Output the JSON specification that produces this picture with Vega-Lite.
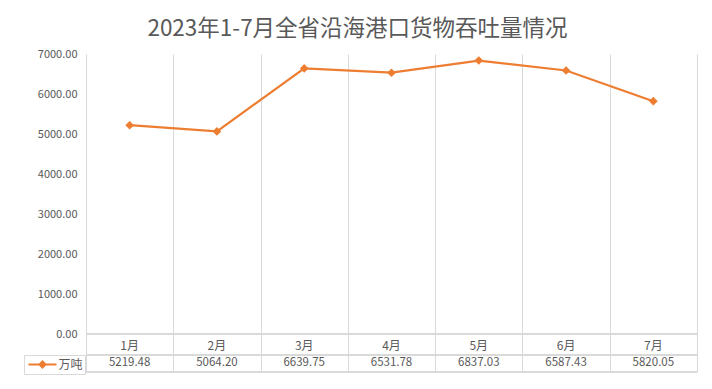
{
  "$schema": "https://vega.github.io/schema/vega-lite/v6.json",
  "width": 611,
  "height": 318,
  "autosize": "none",
  "padding": {"left": 86, "top": 54, "right": 15, "bottom": 17},
  "background": "white",
  "title": {
    "text": "2023年1-7月全省沿海港口货物吞吐量情况",
    "fontSize": 22.5,
    "font": "Noto Sans CJK SC",
    "fontWeight": "normal",
    "color": "#595959",
    "anchor": "middle",
    "dx": -34,
    "offset": 8
  },
  "data": {
    "values": [
      {"month": "1月", "value": 5219.48, "series": "万吨"},
      {"month": "2月", "value": 5064.20, "series": "万吨"},
      {"month": "3月", "value": 6639.75, "series": "万吨"},
      {"month": "4月", "value": 6531.78, "series": "万吨"},
      {"month": "5月", "value": 6837.03, "series": "万吨"},
      {"month": "6月", "value": 6587.43, "series": "万吨"},
      {"month": "7月", "value": 5820.05, "series": "万吨"}
    ]
  },
  "layer": [
    {
      "mark": {"type": "rule", "color": "#d9d9d9", "strokeWidth": 1},
      "encoding": {
        "y": {"datum": 0, "type": "quantitative", "scale": {"domain": [-950, 7000], "nice": false, "zero": false},
          "axis": {"values": [0, 1000, 2000, 3000, 4000, 5000, 6000, 7000], "format": ".2f", "grid": false, "domain": false, "ticks": false, "labelPadding": 9, "labelFontSize": 11, "labelColor": "#595959", "labelFont": "Noto Sans CJK SC", "title": null}}
      }
    },
    {
      "mark": {"type": "rule", "color": "#d9d9d9", "strokeWidth": 1},
      "encoding": {
        "y": {"datum": -525, "type": "quantitative"}
      }
    },
    {
      "mark": {"type": "rule", "color": "#d9d9d9", "strokeWidth": 1},
      "encoding": {
        "y": {"datum": -950, "type": "quantitative"}
      }
    },
    {
      "mark": {"type": "line", "strokeWidth": 2.25},
      "encoding": {
        "x": {"field": "month", "type": "nominal", "sort": null, "scale": {"paddingInner": 0, "paddingOuter": 0},
          "axis": {"orient": "bottom", "grid": true, "gridColor": "#d9d9d9", "gridWidth": 1, "tickBand": "extent", "labels": false, "ticks": false, "domain": false, "title": null}},
        "y": {"field": "value", "type": "quantitative"},
        "color": {"field": "series", "type": "nominal", "scale": {"range": ["#ED7D31"]},
          "legend": {"title": null, "orient": "none", "legendX": -62, "legendY": 301, "strokeColor": "#d9d9d9", "padding": 1.5,
            "symbolType": "M-2,0H2M0,-0.43L0.43,0L0,0.43L-0.43,0Z", "symbolSize": 196, "symbolStrokeWidth": 2,
            "symbolOffset": 9, "labelOffset": 8,
            "symbolFillColor": "#ED7D31", "symbolStrokeColor": "#ED7D31", "labelFontSize": 12, "labelColor": "#595959",
            "labelFont": "Noto Sans CJK SC"}}
      }
    },
    {
      "mark": {"type": "point", "shape": "diamond", "filled": true, "size": 75, "color": "#ED7D31", "opacity": 1},
      "encoding": {
        "x": {"field": "month", "type": "nominal", "sort": null},
        "y": {"field": "value", "type": "quantitative"}
      }
    },
    {
      "mark": {"type": "text", "fontSize": 12, "font": "Noto Sans CJK SC", "color": "#595959", "baseline": "middle"},
      "encoding": {
        "x": {"field": "month", "type": "nominal", "sort": null},
        "y": {"datum": -290, "type": "quantitative"},
        "text": {"field": "month"}
      }
    },
    {
      "mark": {"type": "text", "fontSize": 11.5, "font": "Noto Sans CJK SC", "color": "#595959", "baseline": "middle"},
      "encoding": {
        "x": {"field": "month", "type": "nominal", "sort": null},
        "y": {"datum": -730, "type": "quantitative"},
        "text": {"field": "value", "type": "quantitative", "format": ".2f"}
      }
    }
  ],
  "config": {"view": {"stroke": null}}
}
